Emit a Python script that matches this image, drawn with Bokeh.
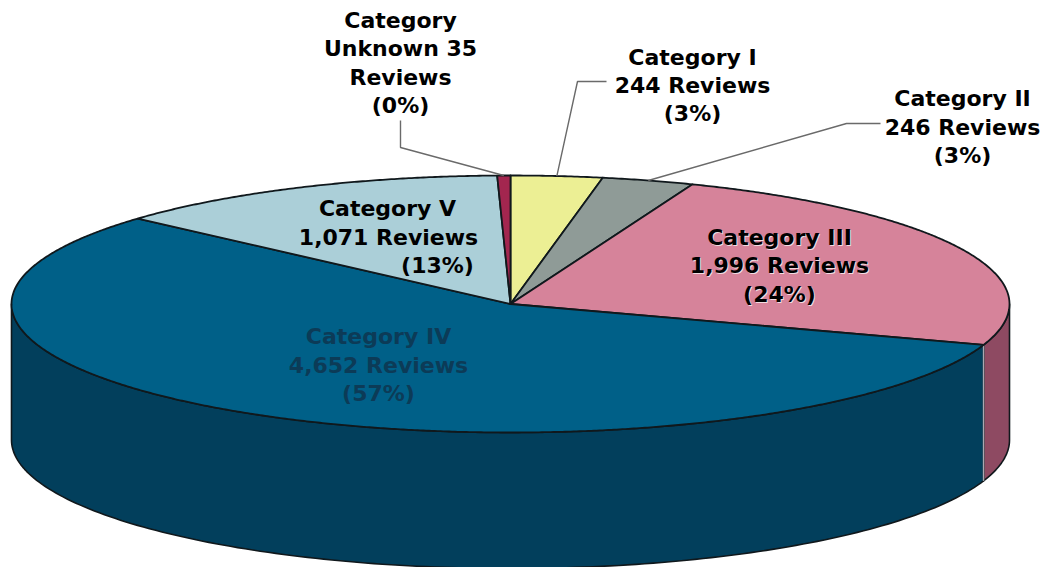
import numpy as np
from bokeh.plotting import figure
from bokeh.embed import file_html
from bokeh.resources import INLINE
from bokeh.core.properties import value

categories = ["Category I", "Category II", "Category III", "Category IV", "Category V", "Category Unknown"]
reviews = [244, 246, 1996, 4652, 1071, 35]
percents = [3, 3, 24, 57, 13, 0]
top_colors = ["#ecef94", "#8f9b97", "#d6839a", "#006088", "#abcfd8", "#a3264f"]
side_colors = ["#a8aa68", "#666e6b", "#8e4a62", "#023f5c", "#7a949a", "#741b38"]

CX, CY, RX, RY, DEPTH = 510.0, 303.5, 499.0, 128.5, 136.0
EDGE = "#10181c"

p = figure(width=1044, height=567, x_range=(0, 1044), y_range=(567, 0),
           output_backend="svg", toolbar_location=None, min_border=0,
           outline_line_color=None, background_fill_color="white")
p.axis.visible = False
p.grid.visible = False


def rim(deg, drop=0.0):
    t = np.radians(deg)
    return CX + RX * np.sin(t), CY - RY * np.cos(t) + drop


total = sum(reviews)
edges = np.concatenate([[0.0], np.cumsum(reviews) / total * 360.0])

# side walls (only the front half of the disc is visible)
for i in range(len(reviews)):
    a, b = max(edges[i], 90.0), min(edges[i + 1], 270.0)
    if b <= a:
        continue
    ts = np.linspace(a, b, 160)
    xt, yt = rim(ts)
    xb, yb = rim(ts[::-1], DEPTH)
    p.patch(np.r_[xt, xb], np.r_[yt, yb], fill_color=side_colors[i],
            line_color=EDGE, line_width=1.6, line_join="round")

# light seam where walls of two slices meet
sx, sy = rim(edges[3])
p.line([sx, sx], [sy, sy + DEPTH], line_color="#a9a9b2", line_width=1.5)

# top face
for i in range(len(reviews)):
    ts = np.linspace(edges[i], edges[i + 1], max(int(edges[i + 1] - edges[i]) * 3, 12))
    xt, yt = rim(ts)
    p.patch(np.r_[CX, xt], np.r_[CY, yt], fill_color=top_colors[i],
            line_color=EDGE, line_width=1.8, line_join="round")

# leader lines
mid = (edges[:-1] + edges[1:]) / 2
elbows = {5: [(400, 120), (400, 147)], 0: [(606, 81), (577, 81)], 1: [(880, 123), (846, 123)]}
for i, pts in elbows.items():
    ex, ey = rim(mid[i])
    xs = [q[0] for q in pts] + [ex]
    ys = [q[1] for q in pts] + [ey]
    p.line(xs, ys, line_color="#6a6a6a", line_width=1.4)


def fmt(i):
    return f"{reviews[i]:,} Reviews", f"({percents[i]}%)"


line_rows = []
# (text, x, y, colour)
r1, r2 = fmt(5)
line_rows += [("Category", 400, 20, "#000"), ("Unknown 35", 400, 48, "#000"),
              ("Reviews", 400, 77, "#000"), (r2, 400, 105, "#000")]
r1, r2 = fmt(0)
line_rows += [(categories[0], 692, 57, "#000"), (r1, 692, 85, "#000"), (r2, 692, 113, "#000")]
r1, r2 = fmt(1)
line_rows += [(categories[1], 962, 98, "#000"), (r1, 962, 127, "#000"), (r2, 962, 155, "#000")]
r1, r2 = fmt(4)
line_rows += [(categories[4], 387, 208, "#000"), (r1, 388, 237, "#000"), (r2, 437, 265, "#000")]
r1, r2 = fmt(2)
halo = [(categories[2], 779, 237), (r1, 779, 265), (r2, 779, 294)]
line_rows += [(t, x, y, "#000") for t, x, y in halo]
r1, r2 = fmt(3)
line_rows += [(categories[3], 378, 336, "#0c3b57"), (r1, 378, 365, "#0c3b57"), (r2, 378, 393, "#0c3b57")]

FONT = value("DejaVu Sans")
SIZE = "22px"
p.text([q[1] for q in halo], [q[2] for q in halo], text=[q[0] for q in halo],
       text_font=FONT, text_font_style="bold", text_font_size=SIZE, text_align="center",
       text_baseline="middle", text_color="#f2dde2", x_offset=1, y_offset=1)
p.text([q[1] for q in line_rows], [q[2] for q in line_rows], text=[q[0] for q in line_rows],
       text_font=FONT, text_font_style="bold", text_font_size=SIZE, text_align="center",
       text_baseline="middle", text_color=[q[3] for q in line_rows])

open("out.html", "w").write(file_html(p, INLINE))
